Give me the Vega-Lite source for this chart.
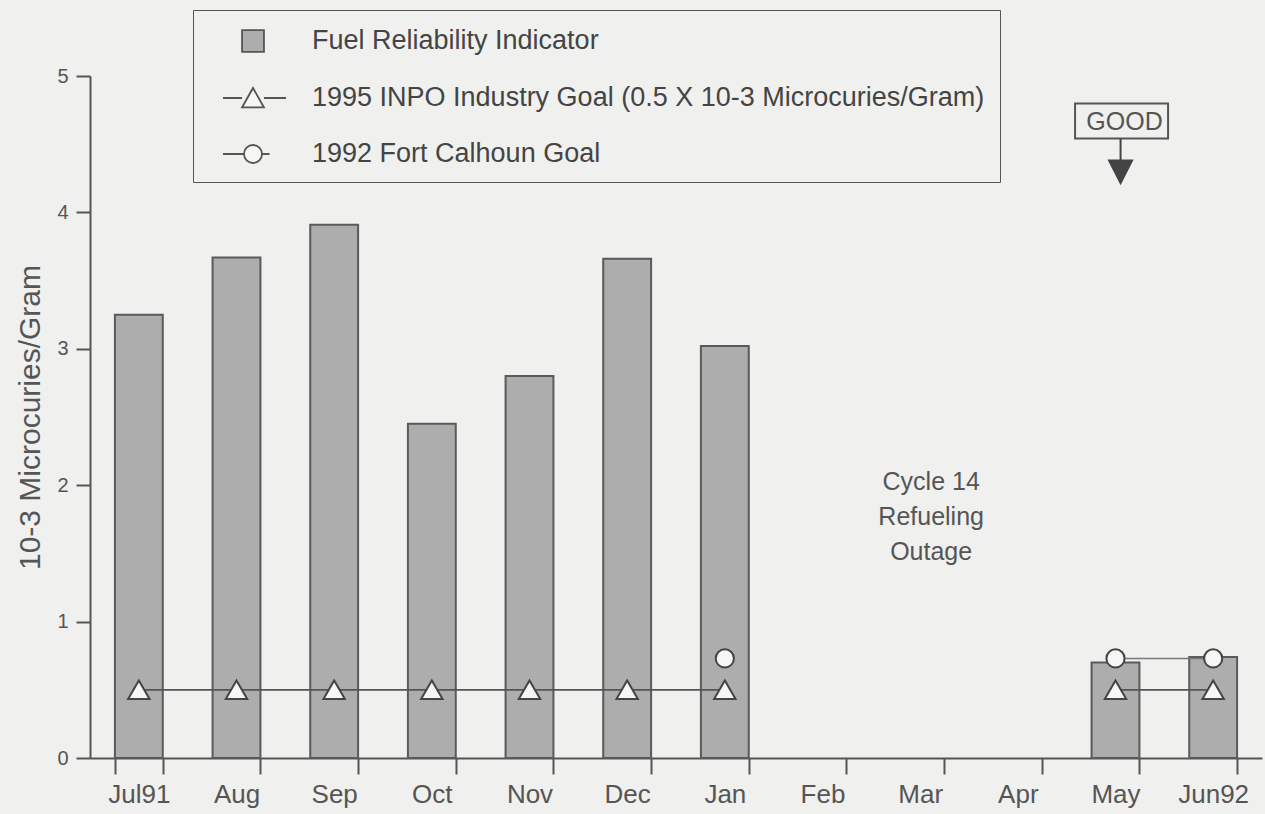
{
  "$schema": "https://vega.github.io/schema/vega-lite/v6.json",
  "width": 1172,
  "height": 682,
  "autosize": {"type": "none"},
  "padding": {"left": 90, "top": 76, "right": 3, "bottom": 56},
  "background": "#f0f0ee",
  "config": {
    "font": "Liberation Sans",
    "view": {"stroke": null},
    "axis": {"grid": false, "domainColor": "#555", "domainWidth": 2, "tickColor": "#555", "tickWidth": 2, "labelColor": "#555", "titleColor": "#555", "titleFontWeight": "normal"},
    "legend": {
      "title": null,
      "orient": "none",
      "legendX": 103,
      "legendY": -66,
      "padding": 15,
      "strokeColor": "#555",
      "symbolSize": 900,
      "symbolOffset": 29,
      "labelOffset": 43,
      "rowPadding": 26,
      "labelFontSize": 27,
      "labelColor": "#444",
      "labelLimit": 1000,
      "symbolOpacity": 1,
      "symbolStrokeColor": "#555",
      "symbolStrokeWidth": 1.8
    }
  },
  "datasets": {
    "months": [
      {"month": "Jul91", "fri": 3.25, "inpo": 0.5, "inpoSeg": "a", "calhoun": null, "calSeg": null},
      {"month": "Aug", "fri": 3.67, "inpo": 0.5, "inpoSeg": "a", "calhoun": null, "calSeg": null},
      {"month": "Sep", "fri": 3.91, "inpo": 0.5, "inpoSeg": "a", "calhoun": null, "calSeg": null},
      {"month": "Oct", "fri": 2.45, "inpo": 0.5, "inpoSeg": "a", "calhoun": null, "calSeg": null},
      {"month": "Nov", "fri": 2.8, "inpo": 0.5, "inpoSeg": "a", "calhoun": null, "calSeg": null},
      {"month": "Dec", "fri": 3.66, "inpo": 0.5, "inpoSeg": "a", "calhoun": null, "calSeg": null},
      {"month": "Jan", "fri": 3.02, "inpo": 0.5, "inpoSeg": "a", "calhoun": 0.73, "calSeg": "a"},
      {"month": "Feb", "fri": null, "inpo": null, "inpoSeg": null, "calhoun": null, "calSeg": null},
      {"month": "Mar", "fri": null, "inpo": null, "inpoSeg": null, "calhoun": null, "calSeg": null},
      {"month": "Apr", "fri": null, "inpo": null, "inpoSeg": null, "calhoun": null, "calSeg": null},
      {"month": "May", "fri": 0.7, "inpo": 0.5, "inpoSeg": "b", "calhoun": 0.73, "calSeg": "b"},
      {"month": "Jun92", "fri": 0.74, "inpo": 0.5, "inpoSeg": "b", "calhoun": 0.73, "calSeg": "b"}
    ],
    "series": [
      {"series": "Fuel Reliability Indicator"},
      {"series": "1995 INPO Industry Goal (0.5 X 10-3 Microcuries/Gram)"},
      {"series": "1992 Fort Calhoun Goal"}
    ],
    "notes": [
      {"month": "Mar", "v": 2.02, "label": "Cycle 14\nRefueling\nOutage"}
    ],
    "good": [
      {"month": "May", "v": 4.67, "arrow": 4.38, "label": "GOOD"}
    ]
  },
  "encoding": {
    "x": {
      "field": "month", "type": "nominal", "sort": null,
      "scale": {"domain": ["Jul91", "Aug", "Sep", "Oct", "Nov", "Dec", "Jan", "Feb", "Mar", "Apr", "May", "Jun92"], "paddingInner": 0.51, "paddingOuter": 0.255},
      "axis": {"title": null, "labelAngle": 0, "tickBand": "extent", "tickSize": 16, "labelFontSize": 26, "labelPadding": 7}
    }
  },
  "layer": [
    {
      "data": {"name": "months"},
      "mark": {"type": "bar", "fill": "#adadad", "stroke": "#5a5a5a", "strokeWidth": 2},
      "encoding": {
        "y": {
          "field": "fri", "type": "quantitative",
          "scale": {"domain": [0, 5], "nice": false},
          "axis": {"values": [0, 1, 2, 3, 4, 5], "format": "d", "tickSize": 14, "labelFontSize": 20, "labelPadding": 8, "title": "10-3 Microcuries/Gram", "titleFontSize": 30, "titlePadding": 11}
        }
      }
    },
    {
      "data": {"name": "months"},
      "mark": {"type": "line", "stroke": "#555", "strokeWidth": 1.8},
      "encoding": {"y": {"field": "inpo", "type": "quantitative"}, "detail": {"field": "inpoSeg"}}
    },
    {
      "data": {"name": "months"},
      "mark": {"type": "line", "stroke": "#777", "strokeWidth": 1.4},
      "encoding": {"y": {"field": "calhoun", "type": "quantitative"}, "detail": {"field": "calSeg"}}
    },
    {
      "data": {"name": "months"},
      "mark": {"type": "point", "shape": "triangle-up", "filled": true, "fill": "#f6f6f4", "stroke": "#444", "strokeWidth": 2, "size": 460, "opacity": 1},
      "encoding": {"y": {"field": "inpo", "type": "quantitative"}}
    },
    {
      "data": {"name": "months"},
      "mark": {"type": "point", "shape": "circle", "filled": true, "fill": "#f6f6f4", "stroke": "#444", "strokeWidth": 2, "size": 330, "opacity": 1},
      "encoding": {"y": {"field": "calhoun", "type": "quantitative"}}
    },
    {
      "data": {"name": "series"},
      "mark": {"type": "point", "filled": true, "opacity": 0, "strokeWidth": 1.8},
      "encoding": {
        "x": {"datum": "Jul91"},
        "y": {"datum": 0},
        "shape": {
          "field": "series", "type": "nominal",
          "scale": {"domain": ["Fuel Reliability Indicator", "1995 INPO Industry Goal (0.5 X 10-3 Microcuries/Gram)", "1992 Fort Calhoun Goal"], "range": ["M-0.73,-0.73H0.73V0.73H-0.73Z", "M-2,0H-0.73M0.73,0H2.2M0,-0.67L0.73,0.63L-0.73,0.63Z", "M-2,0H-0.6M0.6,0H1.1M-0.6,0A0.6,0.6,0,1,1,0.6,0A0.6,0.6,0,1,1,-0.6,0Z"]}
        },
        "fill": {
          "field": "series", "type": "nominal",
          "scale": {"domain": ["Fuel Reliability Indicator", "1995 INPO Industry Goal (0.5 X 10-3 Microcuries/Gram)", "1992 Fort Calhoun Goal"], "range": ["#adadad", "#f6f6f4", "#f6f6f4"]}
        },
        "stroke": {
          "field": "series", "type": "nominal",
          "scale": {"domain": ["Fuel Reliability Indicator", "1995 INPO Industry Goal (0.5 X 10-3 Microcuries/Gram)", "1992 Fort Calhoun Goal"], "range": ["#555555", "#555555", "#555555"]}
        }
      }
    },
    {
      "data": {"name": "notes"},
      "mark": {"type": "text", "fontSize": 25, "color": "#555", "lineBreak": "\n", "lineHeight": 35, "align": "center", "baseline": "middle", "dx": 11},
      "encoding": {"y": {"field": "v", "type": "quantitative"}, "text": {"field": "label"}}
    },
    {
      "data": {"name": "good"},
      "mark": {"type": "point", "shape": "M-1,-0.376H1V0.376H-1Z", "size": 8649, "filled": false, "stroke": "#555", "strokeWidth": 2, "opacity": 1},
      "encoding": {"y": {"field": "v", "type": "quantitative"}, "xOffset": {"value": 30}}
    },
    {
      "data": {"name": "good"},
      "mark": {"type": "text", "fontSize": 25, "color": "#555", "align": "center", "baseline": "middle", "dx": 9, "dy": 1},
      "encoding": {"y": {"field": "v", "type": "quantitative"}, "text": {"field": "label"}}
    },
    {
      "data": {"name": "good"},
      "mark": {"type": "point", "shape": "M0,-1V0M-0.51,0H0.51L0,1Z", "size": 2025, "filled": true, "fill": "#444", "stroke": "#444", "strokeWidth": 2, "opacity": 1},
      "encoding": {"y": {"field": "arrow", "type": "quantitative"}, "xOffset": {"value": 29}}
    }
  ]
}
